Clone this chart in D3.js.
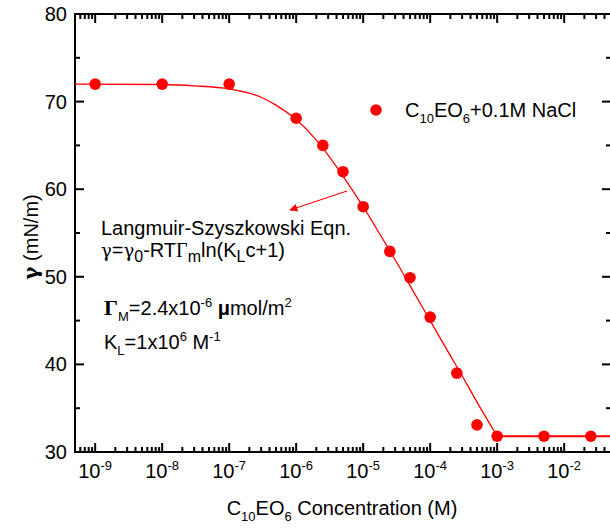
<!DOCTYPE html>
<head>
  <meta charset="utf-8">
  <title>Surface tension</title>
  <script type="text/javascript" src="https://d3js.org/d3.v7.min.js"></script>
  <style>
    body { margin: 0; background: #fff; }
    text { font-family: "Liberation Sans", Arial, sans-serif; fill: #000; }
  </style>
</head>
<body>
<script>
  // measured points (concentration in M, surface tension in mN/m)
  var conc = [1e-9, 1e-8, 1e-7, 1e-6, 2.5e-6, 5e-6, 1e-5, 2.5e-5, 5e-5, 1e-4, 2.5e-4, 5e-4, 1e-3, 5e-3, 2.5e-2];
  var gamma = [72, 72, 72, 68.1, 65, 62, 58, 52.9, 49.9, 45.4, 39, 33.1, 31.8, 31.8, 31.8];

  // fitted Szyszkowski curve
  var fitConc = [5e-10, 1e-8, 3e-8, 1e-7, 3e-7, 5e-7, 1e-6, 2e-6, 3e-6, 5e-6, 1e-5, 2e-5, 3e-5, 5e-5, 1e-4, 2e-4, 3e-4, 5e-4, 1e-3];
  var fitGamma = [72, 71.95, 71.8, 71.45, 70.5, 69.6, 67.95, 65.6, 63.9, 61.5, 58, 54.2, 51.95, 49, 45, 41, 38.7, 35.7, 31.8];

  // plateau above the cmc
  var cmcConc = [1e-3, 5e-2];
  var cmcGamma = [31.8, 31.8];

  var xDomain = [5e-10, 5e-2];
  var yDomain = [30, 80];
  var xMajor = [1e-9, 1e-8, 1e-7, 1e-6, 1e-5, 1e-4, 1e-3, 1e-2];
  var xLabels = ["-9", "-8", "-7", "-6", "-5", "-4", "-3", "-2"];
  var yMajor = [30, 40, 50, 60, 70, 80];
  var yMinor = [35, 45, 55, 65, 75];

  var W = 610, H = 529;
  var x0 = 75, x1 = 611, y0 = 452, y1 = 14;
  var red = "#ff0000";

  var svg = d3.select("body").append("svg")
    .attr("width", W)
    .attr("height", H);

  var x = d3.scaleLog().domain(xDomain).range([x0, x1]);
  var y = d3.scaleLinear().domain(yDomain).range([y0, y1]);

  // minor log ticks
  var xMinor = [];
  for (var e = -10; e <= -2; e++) {
    for (var m = 2; m <= 9; m++) {
      var v = m * Math.pow(10, e);
      if (v >= xDomain[0] && v <= xDomain[1]) xMinor.push(v);
    }
  }

  var gAxes = svg.append("g").attr("stroke", "#000").attr("stroke-width", 2);

  // frame
  gAxes.append("rect")
    .attr("x", x0).attr("y", y1)
    .attr("width", x1 - x0).attr("height", y0 - y1)
    .attr("fill", "none");

  // bottom & top ticks (inward)
  function xTicks(vals, len) {
    vals.forEach(function(v) {
      gAxes.append("line").attr("x1", x(v)).attr("x2", x(v)).attr("y1", y0).attr("y2", y0 - len);
      gAxes.append("line").attr("x1", x(v)).attr("x2", x(v)).attr("y1", y1).attr("y2", y1 + len);
    });
  }
  xTicks(xMajor, 9);
  xTicks(xMinor, 5);

  function yTicks(vals, len) {
    vals.forEach(function(v) {
      gAxes.append("line").attr("x1", x0).attr("x2", x0 + len).attr("y1", y(v)).attr("y2", y(v));
      gAxes.append("line").attr("x1", x1).attr("x2", x1 - len).attr("y1", y(v)).attr("y2", y(v));
    });
  }
  yTicks(yMajor, 9);
  yTicks(yMinor, 5);

  // y tick labels
  svg.append("g").selectAll("text").data(yMajor).enter().append("text")
    .attr("x", x0 - 8)
    .attr("y", function(d) { return y(d) + 7; })
    .attr("text-anchor", "end")
    .attr("font-size", 20)
    .text(function(d) { return d; });

  // x tick labels 10^n
  xMajor.forEach(function(v, i) {
    var t = svg.append("text")
      .attr("x", x(v))
      .attr("y", 478)
      .attr("text-anchor", "middle")
      .attr("font-size", 20);
    t.append("tspan").text("10");
    t.append("tspan").attr("dy", -8).attr("font-size", 13).text(xLabels[i]);
  });

  // axis titles
  var xt = svg.append("text")
    .attr("x", 342).attr("y", 515)
    .attr("text-anchor", "middle")
    .attr("font-size", 20);
  xt.append("tspan").text("C");
  xt.append("tspan").attr("dy", 6).attr("font-size", 13).text("10");
  xt.append("tspan").attr("dy", -6).text("EO");
  xt.append("tspan").attr("dy", 6).attr("font-size", 13).text("6");
  xt.append("tspan").attr("dy", -6).text(" Concentration (M)");

  var yt = svg.append("text")
    .attr("transform", "translate(38,237) rotate(-90)")
    .attr("text-anchor", "middle")
    .attr("font-size", 20);
  yt.append("tspan").attr("font-weight", "bold").attr("font-family", "DejaVu Serif, serif").text("γ");
  yt.append("tspan").text(" (mN/m)");

  // fit curve
  var line = d3.line()
    .x(function(d) { return x(d[0]); })
    .y(function(d) { return y(d[1]); })
    .curve(d3.curveMonotoneX);

  svg.append("path")
    .datum(d3.zip(fitConc, fitGamma))
    .attr("d", line)
    .attr("fill", "none")
    .attr("stroke", red)
    .attr("stroke-width", 1.3);

  svg.append("path")
    .datum(d3.zip(cmcConc, cmcGamma))
    .attr("d", d3.line().x(function(d) { return x(d[0]); }).y(function(d) { return y(d[1]); }))
    .attr("fill", "none")
    .attr("stroke", red)
    .attr("stroke-width", 2.2);

  // data points
  svg.append("g").selectAll("circle").data(d3.zip(conc, gamma)).enter().append("circle")
    .attr("cx", function(d) { return x(d[0]); })
    .attr("cy", function(d) { return y(d[1]); })
    .attr("r", 5.8)
    .attr("fill", red);

  // legend
  svg.append("circle").attr("cx", 376).attr("cy", 110).attr("r", 5.8).attr("fill", red);
  var lg = svg.append("text").attr("x", 405).attr("y", 117).attr("font-size", 20);
  lg.append("tspan").text("C");
  lg.append("tspan").attr("dy", 6).attr("font-size", 13).text("10");
  lg.append("tspan").attr("dy", -6).text("EO");
  lg.append("tspan").attr("dy", 6).attr("font-size", 13).text("6");
  lg.append("tspan").attr("dy", -6).text("+0.1M NaCl");

  // arrow to the curve
  svg.append("defs").append("marker")
    .attr("id", "head")
    .attr("viewBox", "0 0 10 10")
    .attr("refX", 9).attr("refY", 5)
    .attr("markerWidth", 12).attr("markerHeight", 8)
    .attr("markerUnits", "userSpaceOnUse")
    .attr("orient", "auto")
    .append("path").attr("d", "M0,0L10,5L0,10z").attr("fill", red);

  svg.append("line")
    .attr("x1", 347).attr("y1", 191)
    .attr("x2", 290).attr("y2", 210)
    .attr("stroke", red)
    .attr("stroke-width", 1.3)
    .attr("marker-end", "url(#head)");

  // equation annotations
  svg.append("text").attr("x", 101).attr("y", 235).attr("font-size", 20).text("Langmuir-Szyszkowski Eqn.");

  var eq = svg.append("text").attr("x", 101).attr("y", 257).attr("font-size", 20);
  eq.append("tspan").attr("font-family", "DejaVu Serif, serif").attr("font-size", 18).text("γ");
  eq.append("tspan").text("=");
  eq.append("tspan").attr("font-family", "DejaVu Serif, serif").attr("font-size", 18).text("γ");
  eq.append("tspan").attr("dy", 5).attr("font-size", 16).text("0");
  eq.append("tspan").attr("dy", -5).text("-RT");
  eq.append("tspan").attr("font-family", "Liberation Serif, serif").text("Γ");
  eq.append("tspan").attr("dy", 5).attr("font-size", 16).text("m");
  eq.append("tspan").attr("dy", -5).text("ln(K");
  eq.append("tspan").attr("dy", 5).attr("font-size", 16).text("L");
  eq.append("tspan").attr("dy", -5).text("c+1)");

  var gm = svg.append("text").attr("x", 104).attr("y", 315).attr("font-size", 20);
  gm.append("tspan").attr("font-family", "Liberation Serif, serif").attr("font-weight", "bold").attr("font-size", 22).text("Γ");
  gm.append("tspan").attr("dy", 6).attr("font-size", 13).text("M");
  gm.append("tspan").attr("dy", -6).text("=2.4x10");
  gm.append("tspan").attr("dy", -8).attr("font-size", 13).text("-6");
  gm.append("tspan").attr("dy", 8).text(" ");
  gm.append("tspan").attr("font-weight", "bold").text("μ");
  gm.append("tspan").text("mol/m");
  gm.append("tspan").attr("dy", -8).attr("font-size", 13).text("2");

  var kl = svg.append("text").attr("x", 104).attr("y", 349).attr("font-size", 20);
  kl.append("tspan").text("K");
  kl.append("tspan").attr("dy", 6).attr("font-size", 13).text("L");
  kl.append("tspan").attr("dy", -6).text("=1x10");
  kl.append("tspan").attr("dy", -8).attr("font-size", 13).text("6");
  kl.append("tspan").attr("dy", 8).text(" M");
  kl.append("tspan").attr("dy", -8).attr("font-size", 13).text("-1");
</script>
</body>
